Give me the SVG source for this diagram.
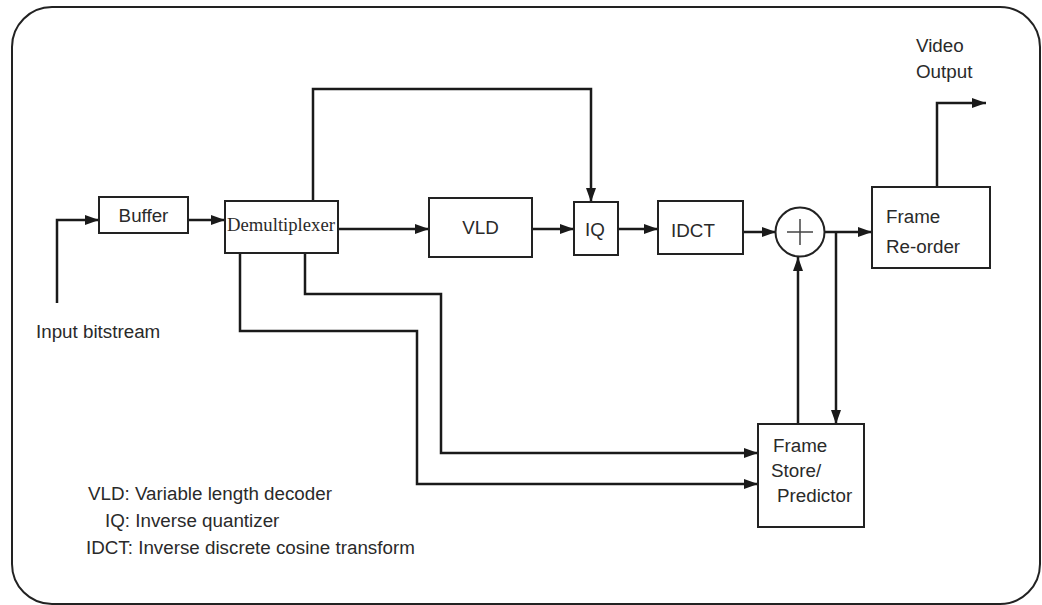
<svg xmlns="http://www.w3.org/2000/svg" width="1042" height="605" viewBox="0 0 1042 605">
<style>
.box{fill:#fff;stroke:#222;stroke-width:2}
.ln{fill:none;stroke:#1a1a1a;stroke-width:2.5}
.t{font-family:"Liberation Sans",Arial,sans-serif;font-size:18.8px;fill:#2a2a2a}
.s{font-family:"Liberation Serif","Times New Roman",serif;font-size:18.7px;fill:#2a2a2a}
</style>
<defs>
<marker id="ah" viewBox="0 0 14 10" refX="14" refY="5" markerWidth="14" markerHeight="10" markerUnits="userSpaceOnUse" orient="auto">
<path d="M0,0 L14,5 L0,10 Z" fill="#1a1a1a"/>
</marker>
</defs>
<rect x="12" y="7" width="1028" height="597" rx="40" ry="40" fill="#fff" stroke="#222" stroke-width="2"/>
<g id="connectors">
<path class="ln" d="M57 303 V220 H99" marker-end="url(#ah)"/>
<path class="ln" d="M188 220 H225" marker-end="url(#ah)"/>
<path class="ln" d="M313 201 V89 H591 V202" marker-end="url(#ah)"/>
<path class="ln" d="M338 229 H429" marker-end="url(#ah)"/>
<path class="ln" d="M532 229 H574" marker-end="url(#ah)"/>
<path class="ln" d="M618 229 H658" marker-end="url(#ah)"/>
<path class="ln" d="M743 232 H776" marker-end="url(#ah)"/>
<path class="ln" d="M825 232 H872" marker-end="url(#ah)"/>
<path class="ln" d="M836 232 V424" marker-end="url(#ah)"/>
<path class="ln" d="M798 424 V257" marker-end="url(#ah)"/>
<path class="ln" d="M937 187 V103 H986" marker-end="url(#ah)"/>
<path class="ln" d="M305 253 V294 H441 V453 H758" marker-end="url(#ah)"/>
<path class="ln" d="M240 253 V331 H417 V484 H758" marker-end="url(#ah)"/>
</g>
<g id="buffer"><rect class="box" x="99" y="197" width="89" height="36"/><text class="t" x="143.5" y="222" text-anchor="middle">Buffer</text></g>
<g id="demux"><rect class="box" x="225" y="201" width="113" height="52"/><text class="s" x="281" y="231" text-anchor="middle">Demultiplexer</text></g>
<g id="vld"><rect class="box" x="429" y="198" width="103" height="59"/><text class="t" x="480.5" y="234" text-anchor="middle">VLD</text></g>
<g id="iq"><rect class="box" x="574" y="202" width="44" height="53"/><text class="t" x="595" y="236" text-anchor="middle">IQ</text></g>
<g id="idct"><rect class="box" x="658" y="201" width="85" height="53"/><text class="t" x="693" y="237" text-anchor="middle">IDCT</text></g>
<g id="adder"><circle cx="800" cy="232" r="24.5" fill="#fff" stroke="#222" stroke-width="2"/><path d="M787 232 H813 M800 219 V245" stroke="#444" stroke-width="1.5"/></g>
<g id="reorder"><rect class="box" x="872" y="187" width="118" height="81"/><text class="t" x="886" y="223">Frame</text><text class="t" x="886" y="253">Re-order</text></g>
<g id="framestore"><rect class="box" x="758" y="424" width="106" height="103"/><text class="t" x="773" y="452">Frame</text><text class="t" x="771" y="477">Store/</text><text class="t" x="777" y="502">Predictor</text></g>
<g id="labels">
<text class="t" x="916" y="52">Video</text>
<text class="t" x="916" y="78">Output</text>
<text class="t" x="36" y="338">Input bitstream</text>
<text class="t" x="88" y="500">VLD: Variable length decoder</text>
<text class="t" x="105" y="527">IQ: Inverse quantizer</text>
<text class="t" x="86" y="554">IDCT: Inverse discrete cosine transform</text>
</g>
</svg>
